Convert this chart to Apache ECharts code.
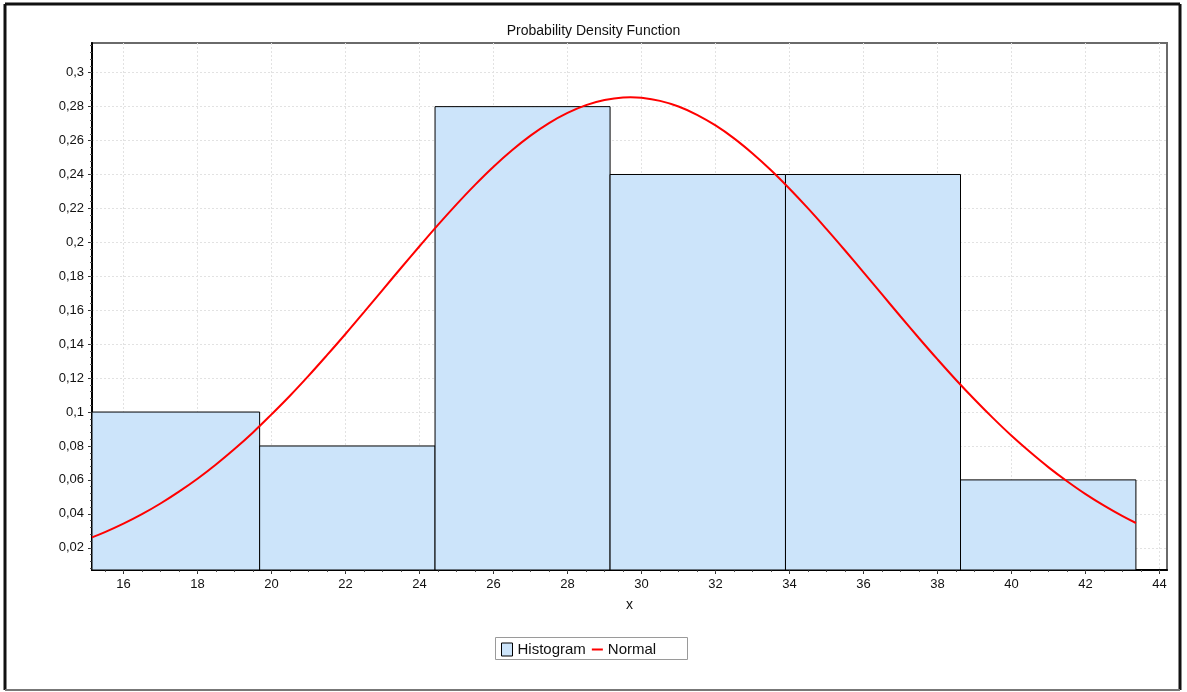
<!DOCTYPE html>
<html>
<head>
<meta charset="utf-8">
<script src="https://cdn.jsdelivr.net/npm/echarts@6/dist/echarts.min.js"></script>
<style>html,body{margin:0;padding:0;background:#fff;}#c{width:1187px;height:692px;}</style>
</head>
<body>
<div id="c"></div>
<script>
// ---- data ----
const binEdges = [14.95, 19.68, 24.42, 29.15, 33.89, 38.62, 43.36];
const binHeights = [0.10, 0.08, 0.28, 0.24, 0.24, 0.06];
const normalX = [15.15, 15.5, 16, 16.5, 17, 17.5, 18, 18.5, 19, 19.5, 20, 20.5, 21, 21.5, 22, 22.5, 23, 23.5, 24, 24.5, 25, 25.5, 26, 26.5, 27, 27.5, 28, 28.5, 29, 29.5, 29.7, 30, 30.5, 31, 31.5, 32, 32.5, 33, 33.5, 34, 34.5, 35, 35.5, 36, 36.5, 37, 37.5, 38, 38.5, 39, 39.5, 40, 40.5, 41, 41.5, 42, 42.5, 43, 43.36];
const normalY = [0.0261, 0.0292, 0.0342, 0.0398, 0.0461, 0.0531, 0.0607, 0.0691, 0.0782, 0.0880, 0.0986, 0.1096, 0.1213, 0.1335, 0.1460, 0.1589, 0.1719, 0.1849, 0.1977, 0.2103, 0.2224, 0.2339, 0.2446, 0.2543, 0.2629, 0.2703, 0.2763, 0.2809, 0.2839, 0.2854, 0.2855, 0.2852, 0.2834, 0.2801, 0.2752, 0.2689, 0.2613, 0.2524, 0.2425, 0.2316, 0.2200, 0.2078, 0.1952, 0.1823, 0.1693, 0.1563, 0.1435, 0.1310, 0.1189, 0.1074, 0.0964, 0.0860, 0.0764, 0.0674, 0.0592, 0.0516, 0.0448, 0.0386, 0.0346];
const xTickLabels = [16, 18, 20, 22, 24, 26, 28, 30, 32, 34, 36, 38, 40, 42, 44];
const yTickLabels = [0.02, 0.04, 0.06, 0.08, 0.1, 0.12, 0.14, 0.16, 0.18, 0.2, 0.22, 0.24, 0.26, 0.28, 0.3];
const xMin = 15.15, xMax = 44.2, yMin = 0.0069, yMax = 0.3175;

const xMinor = []; for (let v = 15.5; v <= xMax + 1e-9; v += 0.5) xMinor.push(+v.toFixed(2));
const yMinor = []; for (let v = 0.008; v <= yMax + 1e-9; v += 0.004) yMinor.push(+v.toFixed(3));

const histData = binHeights.map((h, i) => [binEdges[i], binEdges[i + 1], h]);
const normalData = normalX.map((x, i) => [x, normalY[i]]);

const chart = echarts.init(document.getElementById('c'), null, {renderer: 'canvas'});
const font = 'Liberation Sans, Arial, sans-serif';
const gridLine = {show: true, lineStyle: {color: '#e2e2e2', type: [2, 2], width: 1}};

chart.setOption({
  animation: false,
  backgroundColor: '#fff',
  textStyle: {fontFamily: font},
  title: {
    text: 'Probability Density Function', left: 'center', top: 19,
    textStyle: {fontFamily: font, fontSize: 14, fontWeight: 'normal', color: '#111'}
  },
  legend: {
    left: 501, top: 642, orient: 'horizontal',
    borderWidth: 0, padding: 0,
    itemWidth: 11, itemHeight: 13, itemGap: 6,
    textStyle: {fontFamily: font, fontSize: 15, color: '#111', padding: [0, 0, 0, 0]},
    data: [
      {name: 'Histogram', icon: 'rect', itemStyle: {color: '#cce4fa', borderColor: '#000', borderWidth: 1}},
      {name: 'Normal', icon: 'path://M0,0 L0.01,0 M0,5.5 L11,5.5 L11,7.5 L0,7.5 Z M0,13 L0.01,13', itemStyle: {color: '#ff0000', borderWidth: 0}}
    ]
  },
  grid: {left: 92, right: 20, top: 43, bottom: 122, show: true, borderColor: '#6a6a6a', borderWidth: 2, backgroundColor: '#fff'},
  xAxis: [
    {
      type: 'value', min: xMin, max: xMax, name: 'x', nameLocation: 'middle', nameGap: 28,
      nameTextStyle: {fontFamily: font, fontSize: 14, color: '#111'},
      axisLine: {show: true, onZero: false, lineStyle: {color: '#000', width: 2}},
      axisTick: {show: true, customValues: xTickLabels, length: 4, lineStyle: {color: '#333'}},
      axisLabel: {customValues: xTickLabels, fontFamily: font, fontSize: 13, color: '#111', margin: 8},
      splitLine: gridLine
    },
    {
      type: 'value', min: xMin, max: xMax, position: 'bottom',
      axisLine: {show: false},
      axisTick: {show: true, customValues: xMinor, length: 2, lineStyle: {color: '#555'}},
      axisLabel: {show: false}, splitLine: {show: false}
    }
  ],
  yAxis: [
    {
      type: 'value', min: yMin, max: yMax,
      axisLine: {show: true, onZero: false, lineStyle: {color: '#000', width: 2}},
      axisTick: {show: true, customValues: yTickLabels, length: 4, lineStyle: {color: '#333'}},
      axisLabel: {
        customValues: yTickLabels, fontFamily: font, fontSize: 13, color: '#111', margin: 8,
        formatter: v => String(+(+v).toFixed(2)).replace('.', ',')
      },
      splitLine: gridLine
    },
    {
      type: 'value', min: yMin, max: yMax, position: 'left',
      axisLine: {show: false},
      axisTick: {show: true, customValues: yMinor, length: 2, lineStyle: {color: '#555'}},
      axisLabel: {show: false}, splitLine: {show: false}
    }
  ],
  series: [
    {
      name: 'Histogram', type: 'custom', xAxisIndex: 0, yAxisIndex: 0,
      encode: {x: [0, 1], y: 2},
      data: histData,
      itemStyle: {color: '#cce4fa', borderColor: '#000', borderWidth: 1},
      renderItem: function (params, api) {
        const p0 = api.coord([api.value(0), api.value(2)]);
        const p1 = api.coord([api.value(1), 0]);
        const cs = params.coordSys;
        const rect = echarts.graphic.clipRectByRect(
          {x: p0[0], y: p0[1], width: p1[0] - p0[0], height: p1[1] - p0[1]},
          {x: cs.x, y: cs.y, width: cs.width, height: cs.height}
        );
        return rect && {
          type: 'rect', shape: rect,
          style: {fill: '#cce4fa', stroke: '#000', lineWidth: 1}
        };
      },
      z: 2
    },
    {
      name: 'Normal', type: 'line', xAxisIndex: 0, yAxisIndex: 0,
      data: normalData, smooth: 0.4, symbol: 'none', showSymbol: false,
      lineStyle: {color: '#ff0000', width: 2}, itemStyle: {color: '#ff0000'},
      z: 3
    }
  ],
  graphic: [
    {type: 'rect', shape: {x: 495.5, y: 637.5, width: 192, height: 22}, style: {fill: 'none', stroke: '#9a9a9a', lineWidth: 1}, silent: true, z: -1},
    {type: 'line', shape: {x1: 5, y1: 4, x2: 1180, y2: 4}, style: {stroke: '#111', lineWidth: 3}, silent: true},
    {type: 'line', shape: {x1: 5, y1: 4, x2: 5, y2: 690}, style: {stroke: '#111', lineWidth: 3}, silent: true},
    {type: 'line', shape: {x1: 1180, y1: 4, x2: 1180, y2: 690}, style: {stroke: '#111', lineWidth: 3}, silent: true},
    {type: 'line', shape: {x1: 5, y1: 690, x2: 1180, y2: 690}, style: {stroke: '#777', lineWidth: 2}, silent: true}
  ]
});
</script>
</body>
</html>
